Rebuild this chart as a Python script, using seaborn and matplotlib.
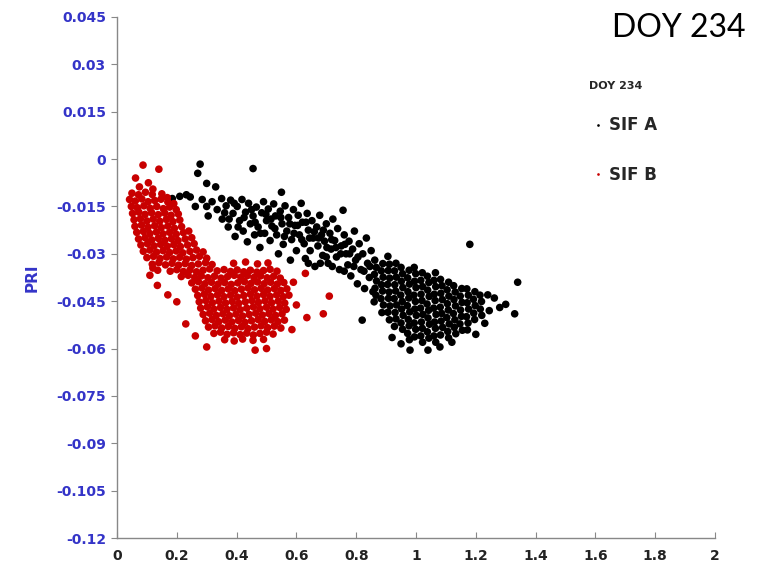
import matplotlib
matplotlib.use("Agg")
import matplotlib.pyplot as plt
import seaborn as sns
import pandas as pd

# ----------------------------------------------------------
# DATA
# ----------------------------------------------------------

series_names = ["SIF A", "SIF B"]
series_colors = ["#000000", "#c80000"]

x_ticks = [0, 0.2, 0.4, 0.6, 0.8, 1.0, 1.2, 1.4, 1.6, 1.8, 2.0]
x_tick_labels = ["0", "0.2", "0.4", "0.6", "0.8", "1", "1.2", "1.4", "1.6", "1.8", "2"]
y_ticks = [0.045, 0.03, 0.015, 0, -0.015, -0.03, -0.045, -0.06, -0.075, -0.09, -0.105, -0.12]
y_tick_labels = ["0.045", "0.03", "0.015", "0", "-0.015", "-0.03", "-0.045",
                 "-0.06", "-0.075", "-0.09", "-0.105", "-0.12"]

# SIF A (black) : (SIF, PRI)
sif_a = [
    # upper left stragglers
    (0.278, -0.0016), (0.270, -0.0045), (0.455, -0.0030), (0.300, -0.0077), (0.330, -0.0088),
    (0.550, -0.0105), (0.210, -0.0118), (0.232, -0.0113),
    (0.185, -0.0125), (0.245, -0.0120), (0.262, -0.0150), (0.285, -0.0128), (0.300, -0.0150),
    (0.318, -0.0135), (0.305, -0.0180), (0.335, -0.0160),
    # diagonal band
    (0.350, -0.0125), (0.352, -0.0190), (0.365, -0.0148), (0.372, -0.0215), (0.380, -0.0130),
    (0.388, -0.0172), (0.395, -0.0245), (0.402, -0.0150), (0.410, -0.0195), (0.418, -0.0128),
    (0.422, -0.0228), (0.430, -0.0168), (0.436, -0.0262), (0.440, -0.0140), (0.446, -0.0205),
    (0.455, -0.0180), (0.460, -0.0240), (0.466, -0.0152), (0.472, -0.0215), (0.478, -0.0280),
    (0.484, -0.0170), (0.490, -0.0135), (0.494, -0.0235), (0.500, -0.0195), (0.506, -0.0158),
    (0.512, -0.0258), (0.518, -0.0212), (0.524, -0.0142), (0.530, -0.0180), (0.534, -0.0240),
    (0.540, -0.0300), (0.546, -0.0165), (0.552, -0.0205), (0.556, -0.0270), (0.562, -0.0148),
    (0.568, -0.0228), (0.574, -0.0185), (0.580, -0.0320), (0.584, -0.0255), (0.590, -0.0160),
    (0.595, -0.0210), (0.600, -0.0290), (0.606, -0.0178), (0.610, -0.0240), (0.616, -0.0140),
    (0.620, -0.0200), (0.626, -0.0268), (0.630, -0.0315), (0.636, -0.0172), (0.640, -0.0225),
    (0.646, -0.0290), (0.652, -0.0195), (0.656, -0.0250), (0.662, -0.0340), (0.668, -0.0215),
    (0.672, -0.0275), (0.678, -0.0178), (0.684, -0.0240), (0.688, -0.0305), (0.694, -0.0260),
    (0.700, -0.0205), (0.706, -0.0330), (0.712, -0.0235), (0.716, -0.0285), (0.722, -0.0190),
    (0.728, -0.0258), (0.734, -0.0310), (0.738, -0.0220), (0.744, -0.0350), (0.750, -0.0275),
    (0.756, -0.0162), (0.760, -0.0240), (0.766, -0.0300), (0.772, -0.0335), (0.776, -0.0260),
    (0.782, -0.0370), (0.788, -0.0285), (0.794, -0.0228), (0.798, -0.0320), (0.804, -0.0395),
    (0.810, -0.0268), (0.816, -0.0350), (0.822, -0.0300), (0.828, -0.0410), (0.834, -0.0250),
    (0.838, -0.0330), (0.844, -0.0375), (0.850, -0.0290), (0.856, -0.0420), (0.820, -0.0510),
    (0.360, -0.0170), (0.375, -0.0190), (0.392, -0.0140), (0.405, -0.0215), (0.425, -0.0185),
    (0.450, -0.0160), (0.462, -0.0200), (0.480, -0.0235), (0.498, -0.0175), (0.515, -0.0190),
    (0.528, -0.0220), (0.548, -0.0185), (0.560, -0.0245), (0.578, -0.0205), (0.592, -0.0235),
    (0.604, -0.0210), (0.618, -0.0255), (0.632, -0.0200), (0.644, -0.0250), (0.660, -0.0230),
    (0.674, -0.0250), (0.690, -0.0225), (0.702, -0.0280), (0.718, -0.0255), (0.732, -0.0280),
    (0.748, -0.0300), (0.762, -0.0270), (0.778, -0.0300), (0.792, -0.0340), (0.806, -0.0310),
    (0.826, -0.0355), (0.846, -0.0340), (0.640, -0.0330), (0.700, -0.0310), (0.760, -0.0355),
    (0.680, -0.0330), (0.720, -0.0340),
    # dense cluster around SIF 1.0
    (0.862, -0.0320), (0.867, -0.0343), (0.861, -0.0365), (0.868, -0.0386), (0.863, -0.0409),
    (0.866, -0.0431), (0.860, -0.0452),
    (0.889, -0.0331), (0.884, -0.0354), (0.890, -0.0374), (0.885, -0.0398), (0.888, -0.0418),
    (0.883, -0.0442), (0.891, -0.0462), (0.886, -0.0486),
    (0.906, -0.0308), (0.911, -0.0333), (0.907, -0.0353), (0.912, -0.0377), (0.905, -0.0397),
    (0.910, -0.0421), (0.908, -0.0441), (0.913, -0.0465), (0.906, -0.0485), (0.911, -0.0509),
    (0.933, -0.0330), (0.928, -0.0354), (0.934, -0.0374), (0.929, -0.0398), (0.932, -0.0418),
    (0.927, -0.0442), (0.935, -0.0462), (0.930, -0.0486), (0.933, -0.0506), (0.928, -0.0530),
    (0.950, -0.0343), (0.955, -0.0363), (0.951, -0.0387), (0.956, -0.0407), (0.949, -0.0431),
    (0.954, -0.0451), (0.952, -0.0475), (0.957, -0.0495), (0.950, -0.0519), (0.955, -0.0539),
    (0.977, -0.0352), (0.972, -0.0376), (0.978, -0.0396), (0.973, -0.0420), (0.976, -0.0440),
    (0.971, -0.0464), (0.979, -0.0484), (0.974, -0.0508), (0.977, -0.0528), (0.972, -0.0552),
    (0.978, -0.0572),
    (0.994, -0.0343), (0.999, -0.0363), (0.995, -0.0387), (1.000, -0.0407), (0.993, -0.0431),
    (0.998, -0.0451), (0.996, -0.0475), (1.001, -0.0495), (0.994, -0.0519), (0.999, -0.0539),
    (0.995, -0.0563),
    (1.021, -0.0360), (1.016, -0.0384), (1.022, -0.0404), (1.017, -0.0428), (1.020, -0.0448),
    (1.015, -0.0472), (1.023, -0.0492), (1.018, -0.0516), (1.021, -0.0536), (1.016, -0.0560),
    (1.022, -0.0580),
    (1.038, -0.0371), (1.043, -0.0391), (1.039, -0.0415), (1.044, -0.0435), (1.037, -0.0459),
    (1.042, -0.0479), (1.040, -0.0503), (1.045, -0.0523), (1.038, -0.0547), (1.043, -0.0567),
    (1.065, -0.0360), (1.060, -0.0384), (1.066, -0.0404), (1.061, -0.0428), (1.064, -0.0448),
    (1.059, -0.0472), (1.067, -0.0492), (1.062, -0.0516), (1.065, -0.0536), (1.060, -0.0560),
    (1.066, -0.0580),
    (1.082, -0.0381), (1.087, -0.0401), (1.083, -0.0425), (1.088, -0.0445), (1.081, -0.0469),
    (1.086, -0.0489), (1.084, -0.0513), (1.089, -0.0533), (1.082, -0.0557),
    (1.109, -0.0390), (1.104, -0.0414), (1.110, -0.0434), (1.105, -0.0458), (1.108, -0.0478),
    (1.103, -0.0502), (1.111, -0.0522), (1.106, -0.0546), (1.109, -0.0566),
    (1.126, -0.0401), (1.131, -0.0421), (1.127, -0.0445), (1.132, -0.0465), (1.125, -0.0489),
    (1.130, -0.0509), (1.128, -0.0533), (1.133, -0.0553),
    (1.153, -0.0410), (1.148, -0.0434), (1.154, -0.0454), (1.149, -0.0478), (1.152, -0.0498),
    (1.147, -0.0522), (1.155, -0.0542),
    (1.170, -0.0411), (1.175, -0.0431), (1.171, -0.0455), (1.176, -0.0475), (1.169, -0.0499),
    (1.174, -0.0519), (1.172, -0.0541),
    (1.197, -0.0420), (1.192, -0.0444), (1.198, -0.0464), (1.193, -0.0488), (1.196, -0.0508),
    (1.214, -0.0431), (1.219, -0.0451), (1.215, -0.0475), (1.220, -0.0495),
    # right tail / outliers
    (1.240, -0.0430), (1.245, -0.0480), (1.262, -0.0440), (1.280, -0.0470), (1.300, -0.0460),
    (1.330, -0.0490), (1.340, -0.0390), (1.180, -0.0270), (0.980, -0.0605), (1.040, -0.0605),
    (0.920, -0.0565), (1.080, -0.0595), (1.120, -0.0580), (0.950, -0.0585), (1.230, -0.0520),
    (1.200, -0.0555),
]

# SIF B (red) : (SIF, PRI)
sif_b = [
    (0.087, -0.0019), (0.140, -0.0032), (0.062, -0.0060), (0.105, -0.0075), (0.075, -0.0088),
    (0.120, -0.0095),
    (0.050, -0.0108), (0.072, -0.0113), (0.095, -0.0105), (0.118, -0.0112), (0.150, -0.0110),
    (0.168, -0.0122),
    (0.042, -0.0128), (0.061, -0.0133), (0.083, -0.0126), (0.104, -0.0135), (0.126, -0.0131),
    (0.147, -0.0127), (0.170, -0.0136), (0.190, -0.0141),
    (0.048, -0.0150), (0.068, -0.0154), (0.090, -0.0148), (0.111, -0.0156), (0.133, -0.0150),
    (0.155, -0.0157), (0.176, -0.0152), (0.198, -0.0160),
    (0.052, -0.0172), (0.073, -0.0168), (0.094, -0.0175), (0.116, -0.0170), (0.138, -0.0176),
    (0.160, -0.0171), (0.181, -0.0178), (0.205, -0.0174),
    (0.057, -0.0192), (0.078, -0.0189), (0.100, -0.0196), (0.121, -0.0190), (0.143, -0.0197),
    (0.165, -0.0191), (0.187, -0.0198), (0.210, -0.0193),
    (0.060, -0.0213), (0.082, -0.0209), (0.104, -0.0216), (0.126, -0.0211), (0.148, -0.0217),
    (0.170, -0.0212), (0.192, -0.0219), (0.216, -0.0214),
    (0.066, -0.0232), (0.088, -0.0229), (0.110, -0.0236), (0.132, -0.0231), (0.154, -0.0237),
    (0.176, -0.0232), (0.198, -0.0238), (0.222, -0.0233), (0.240, -0.0228),
    (0.072, -0.0253), (0.094, -0.0249), (0.116, -0.0256), (0.138, -0.0251), (0.160, -0.0257),
    (0.182, -0.0252), (0.204, -0.0258), (0.228, -0.0253), (0.250, -0.0249),
    (0.080, -0.0272), (0.102, -0.0268), (0.124, -0.0275), (0.146, -0.0270), (0.168, -0.0276),
    (0.190, -0.0271), (0.212, -0.0277), (0.236, -0.0272), (0.258, -0.0268),
    (0.088, -0.0292), (0.110, -0.0288), (0.132, -0.0295), (0.154, -0.0290), (0.176, -0.0296),
    (0.198, -0.0291), (0.220, -0.0297), (0.244, -0.0292), (0.266, -0.0288), (0.288, -0.0294),
    (0.100, -0.0312), (0.122, -0.0308), (0.144, -0.0315), (0.166, -0.0310), (0.188, -0.0316),
    (0.210, -0.0311), (0.232, -0.0317), (0.254, -0.0312), (0.276, -0.0308), (0.300, -0.0314),
    (0.118, -0.0333), (0.140, -0.0328), (0.162, -0.0335), (0.184, -0.0330), (0.206, -0.0336),
    (0.228, -0.0331), (0.250, -0.0337), (0.272, -0.0332), (0.296, -0.0328), (0.318, -0.0334),
    (0.390, -0.0330), (0.430, -0.0326), (0.470, -0.0332), (0.505, -0.0329), (0.120, -0.0345),
    (0.136, -0.0352), (0.178, -0.0355), (0.200, -0.0350), (0.222, -0.0356), (0.244, -0.0351),
    (0.266, -0.0357), (0.288, -0.0352), (0.310, -0.0348), (0.335, -0.0354), (0.358, -0.0350),
    (0.380, -0.0356), (0.402, -0.0351), (0.424, -0.0357), (0.446, -0.0352), (0.468, -0.0358),
    (0.490, -0.0353), (0.512, -0.0349), (0.535, -0.0355), (0.630, -0.0362),
    # lower blob
    (0.110, -0.0368), (0.215, -0.0372), (0.238, -0.0368), (0.260, -0.0375), (0.282, -0.0370),
    (0.304, -0.0376), (0.326, -0.0371), (0.348, -0.0377), (0.370, -0.0372), (0.392, -0.0368),
    (0.414, -0.0374), (0.436, -0.0369), (0.458, -0.0375), (0.480, -0.0370), (0.502, -0.0376),
    (0.524, -0.0371), (0.546, -0.0377), (0.590, -0.0390),
    (0.135, -0.0400), (0.250, -0.0392), (0.272, -0.0388), (0.294, -0.0395), (0.316, -0.0390),
    (0.338, -0.0396), (0.360, -0.0391), (0.382, -0.0397), (0.404, -0.0392), (0.426, -0.0388),
    (0.448, -0.0394), (0.470, -0.0389), (0.492, -0.0395), (0.514, -0.0390), (0.536, -0.0396),
    (0.558, -0.0391),
    (0.262, -0.0412), (0.284, -0.0408), (0.306, -0.0415), (0.328, -0.0410), (0.350, -0.0416),
    (0.372, -0.0411), (0.394, -0.0417), (0.416, -0.0412), (0.438, -0.0408), (0.460, -0.0414),
    (0.482, -0.0409), (0.504, -0.0415), (0.526, -0.0410), (0.548, -0.0416), (0.568, -0.0411),
    (0.170, -0.0430), (0.270, -0.0432), (0.292, -0.0428), (0.314, -0.0435), (0.336, -0.0430),
    (0.358, -0.0436), (0.380, -0.0431), (0.402, -0.0437), (0.424, -0.0432), (0.446, -0.0428),
    (0.468, -0.0434), (0.490, -0.0429), (0.512, -0.0435), (0.534, -0.0430), (0.556, -0.0436),
    (0.575, -0.0431), (0.710, -0.0434),
    (0.200, -0.0452), (0.275, -0.0452), (0.297, -0.0448), (0.319, -0.0455), (0.341, -0.0450),
    (0.363, -0.0456), (0.385, -0.0451), (0.407, -0.0457), (0.429, -0.0452), (0.451, -0.0448),
    (0.473, -0.0454), (0.495, -0.0449), (0.517, -0.0455), (0.539, -0.0450), (0.561, -0.0456),
    (0.600, -0.0462),
    (0.280, -0.0472), (0.302, -0.0468), (0.324, -0.0475), (0.346, -0.0470), (0.368, -0.0476),
    (0.390, -0.0471), (0.412, -0.0477), (0.434, -0.0472), (0.456, -0.0468), (0.478, -0.0474),
    (0.500, -0.0469), (0.522, -0.0475), (0.544, -0.0470), (0.566, -0.0476),
    (0.288, -0.0492), (0.310, -0.0488), (0.332, -0.0495), (0.354, -0.0490), (0.376, -0.0496),
    (0.398, -0.0491), (0.420, -0.0497), (0.442, -0.0492), (0.464, -0.0488), (0.486, -0.0494),
    (0.508, -0.0489), (0.530, -0.0495), (0.552, -0.0490), (0.690, -0.0490),
    (0.296, -0.0512), (0.318, -0.0508), (0.340, -0.0515), (0.362, -0.0510), (0.384, -0.0516),
    (0.406, -0.0511), (0.428, -0.0517), (0.450, -0.0512), (0.472, -0.0508), (0.494, -0.0514),
    (0.516, -0.0509), (0.538, -0.0515), (0.560, -0.0510), (0.635, -0.0502),
    (0.230, -0.0522), (0.306, -0.0532), (0.328, -0.0528), (0.350, -0.0535), (0.372, -0.0530),
    (0.394, -0.0536), (0.416, -0.0531), (0.438, -0.0537), (0.460, -0.0532), (0.482, -0.0528),
    (0.504, -0.0534), (0.526, -0.0529), (0.548, -0.0535), (0.585, -0.0540),
    (0.262, -0.0560), (0.324, -0.0552), (0.346, -0.0548), (0.368, -0.0555), (0.390, -0.0550),
    (0.412, -0.0556), (0.434, -0.0551), (0.456, -0.0557), (0.478, -0.0552), (0.500, -0.0548),
    (0.522, -0.0554),
    (0.300, -0.0595), (0.360, -0.0572), (0.392, -0.0576), (0.420, -0.0570), (0.455, -0.0574),
    (0.490, -0.0571), (0.462, -0.0605), (0.500, -0.0600),
]

# ----------------------------------------------------------
# DATAFRAME
# ----------------------------------------------------------

df = pd.DataFrame(sif_a + sif_b, columns=["SIF", "PRI"])
df["Series"] = [series_names[0]] * len(sif_a) + [series_names[1]] * len(sif_b)

# ----------------------------------------------------------
# PLOT
# ----------------------------------------------------------

sns.set_style("white")
plt.rcParams["font.family"] = ["DejaVu Sans"]

fig = plt.figure(figsize=(7.57, 5.72), dpi=100)
ax = fig.add_axes([117 / 757, 34 / 572, 598 / 757, 521 / 572])

sns.scatterplot(
    data=df,
    x="SIF",
    y="PRI",
    hue="Series",
    hue_order=series_names,
    palette=dict(zip(series_names, series_colors)),
    s=30,
    linewidth=0,
    ax=ax
)

ax.set_xlim(0, 2)
ax.set_ylim(-0.12, 0.045)

ax.set_xticks(x_ticks)
ax.set_xticklabels(x_tick_labels, fontsize=10, fontweight="bold", color="#222222")
ax.set_yticks(y_ticks)
ax.set_yticklabels(y_tick_labels, fontsize=10, fontweight="bold", color="#3434c8")

ax.tick_params(axis="y", direction="out", length=4, color="#888888", pad=4, left=True)
ax.tick_params(axis="x", direction="in", length=4, color="#888888", pad=8, bottom=True)

for side in ["top", "right"]:
    ax.spines[side].set_visible(False)
for side in ["left", "bottom"]:
    ax.spines[side].set_color("#888888")
    ax.spines[side].set_linewidth(1.0)

ax.set_xlabel("")
ax.set_ylabel("PRI", fontsize=11, fontweight="bold", color="#3434c8", labelpad=12)

leg = ax.legend(
    title="DOY 234",
    loc="upper left",
    bbox_to_anchor=(0.765, 0.905),
    frameon=False,
    markerscale=0.35,
    labelspacing=1.9,
    handletextpad=0.2,
    handlelength=1.0,
    prop={"weight": "bold", "size": 12},
    title_fontproperties={"weight": "bold", "size": 8},
)
leg._legend_box.align = "left"
leg._legend_box.sep = 18

fig.text(745 / 757, 1 - 37 / 572, "DOY 234", ha="right", va="baseline",
         fontsize=23, family=["Lato", "DejaVu Sans"], color="#000000")

plt.savefig("out.png", dpi=100)
plt.close()
